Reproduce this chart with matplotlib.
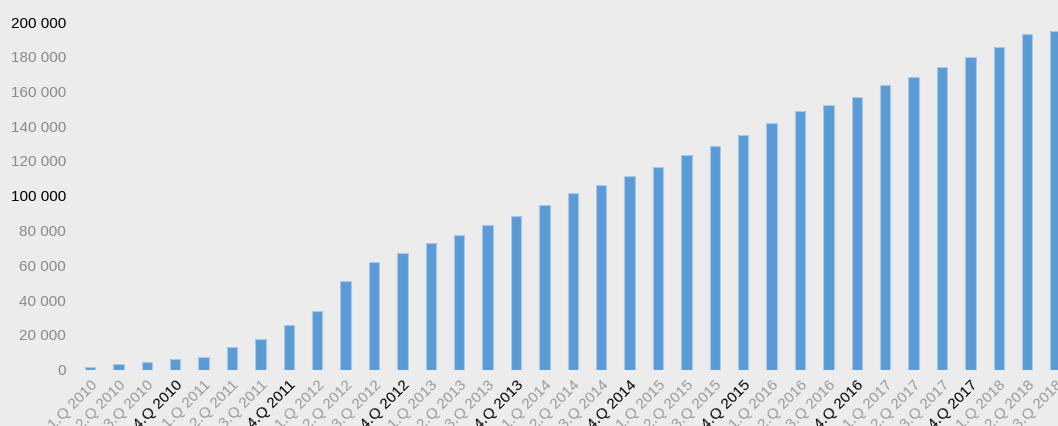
import matplotlib.pyplot as plt
import matplotlib.transforms as mtransforms
import numpy as np

# quarters 2010 - 2018
years = [2010, 2011, 2012, 2013, 2014, 2015, 2016, 2017, 2018]
quarters = [f"{q}.Q {y}" for y in years for q in range(1, 5)][:35]

values = [1400, 3000, 4500, 6000, 7400, 12900, 17400, 25600,
          33800, 51100, 61900, 67000, 73000, 77600, 83400, 88500,
          94500, 101400, 106000, 111200, 116400, 123300, 128500, 135100,
          141900, 148800, 152400, 156800, 163700, 168200, 174300, 179700,
          185400, 193100, 194600]

y_ticks = [0, 20000, 40000, 60000, 80000, 100000, 120000, 140000,
           160000, 180000, 200000]

bg = '#ececec'
fig = plt.figure(figsize=(10.58, 4.26), dpi=100, facecolor=bg)
ax = fig.add_axes([70 / 1058, (426 - 369.5) / 426, 988 / 1058, 347.5 / 426])
ax.set_facecolor(bg)

x = np.arange(len(values))
ax.bar(x, values, width=0.37, color='#5b9bd5', edgecolor='#a9c8e8', linewidth=0.8)

ax.set_xlim(-0.704, 34.085)
ax.set_ylim(0, 200000)

for s in ax.spines.values():
    s.set_visible(False)
ax.tick_params(length=0)

ax.set_yticks(y_ticks)
ax.set_yticklabels([f"{v:,}".replace(',', ' ') for v in y_ticks],
                   fontsize=11, family='Liberation Sans')
for v, lab in zip(y_ticks, ax.get_yticklabels()):
    lab.set_color('black' if v in (100000, 200000) else '#8a8a8a')
ax.tick_params(axis='y', pad=3)

ax.set_xticks(x)
ax.set_xticklabels(quarters, rotation=45, ha='right', va='top',
                   rotation_mode='anchor', fontsize=11, family='Liberation Sans')
shift = mtransforms.ScaledTranslation(-0.035, 0, fig.dpi_scale_trans)
for q, lab in zip(quarters, ax.get_xticklabels()):
    lab.set_color('black' if q.startswith('4.Q') else '#9a9a9a')
    lab.set_transform(lab.get_transform() + shift)
ax.tick_params(axis='x', pad=6)

fig.savefig('out.png', dpi=100, facecolor=bg)
